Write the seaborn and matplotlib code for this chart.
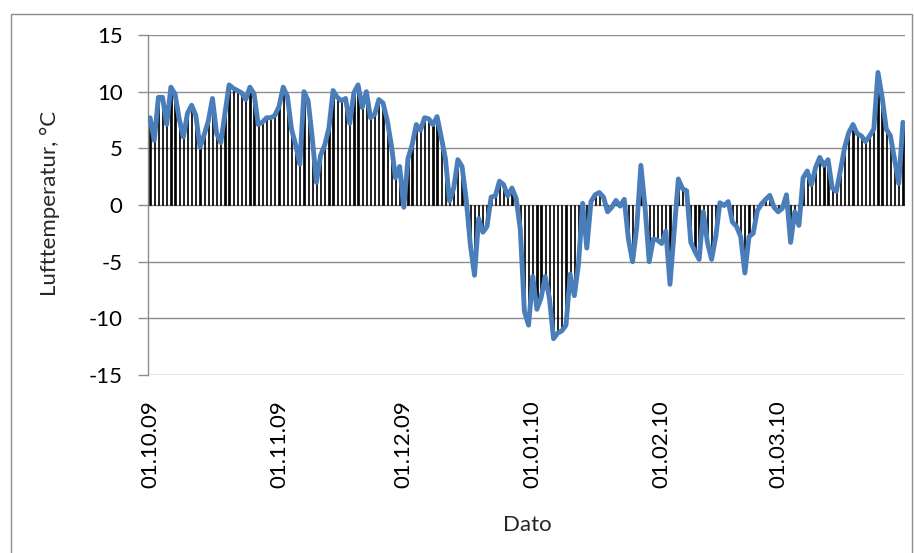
import numpy as np
import pandas as pd
import matplotlib
matplotlib.use("Agg")
import matplotlib.pyplot as plt
from matplotlib.patches import Rectangle
import seaborn as sns

# Daily air temperature, 01.10.2009 - 31.03.2010
oct09 = [7.7, 5.7, 9.5, 9.5, 7.1, 10.4, 9.8, 7.6, 6.0, 8.1, 8.8, 7.9, 5.1, 6.2, 7.4, 9.4,
         6.3, 5.5, 8.1, 10.6, 10.3, 10.1, 9.9, 9.3, 10.4, 9.8, 7.1, 7.3, 7.7, 7.7, 7.9]
nov09 = [8.7, 10.4, 9.6, 6.7, 5.3, 3.6, 10.0, 9.2, 5.9, 2.0, 4.4, 5.3, 6.8, 10.1, 9.5,
         9.2, 9.4, 7.2, 9.9, 10.6, 8.6, 10.0, 7.7, 8.0, 9.3, 9.0, 7.5, 5.3, 2.4, 3.4]
dec09 = [-0.2, 4.1, 5.3, 7.1, 6.6, 7.7, 7.6, 7.1, 7.8, 6.0, 4.1, 0.35, 1.5, 4.0, 3.4, 0.5,
         -3.5, -6.2, -1.2, -2.4, -1.9, 0.7, 0.8, 2.1, 1.8, 0.8, 1.5, 0.6, -2.1, -9.4, -10.6]
jan10 = [-6.3, -9.2, -8.2, -6.3, -8.2, -11.8, -11.3, -11.1, -10.6, -6.1, -8.0, -5.2, 0.15,
         -3.8, 0.3, 0.9, 1.1, 0.7, -0.6, -0.2, 0.4, -0.1, 0.5, -3.0, -5.0, -2.0, 3.5, -0.2,
         -5.0, -3.0, -3.1]
feb10 = [-3.4, -2.3, -7.0, -2.4, 2.3, 1.45, 1.25, -3.3, -4.1, -4.8, -0.6, -3.3, -4.8, -2.8,
         0.2, -0.05, 0.3, -1.5, -1.9, -2.8, -6.0, -2.8, -2.5, -0.5, 0.1, 0.5, 0.85, -0.2]
mar10 = [-0.6, -0.3, 0.9, -3.3, -0.6, -1.8, 2.4, 3.0, 1.8, 3.3, 4.2, 3.5, 4.0, 1.5, 1.2, 3.1,
         5.1, 6.4, 7.1, 6.3, 6.1, 5.6, 6.1, 6.7, 11.7, 9.5, 6.7, 6.1, 4.0, 1.9, 7.3]

tick_labels = ["01.10.09", "01.11.09", "01.12.09", "01.01.10", "01.02.10", "01.03.10"]
y_ticks = [-15, -10, -5, 0, 5, 10, 15]

temps = oct09 + nov09 + dec09 + jan10 + feb10 + mar10
month_lengths = [len(oct09), len(nov09), len(dec09), len(jan10), len(feb10), len(mar10)]
tick_pos = list(np.cumsum([0] + month_lengths[:-1]))

df = pd.DataFrame({"day": np.arange(len(temps)), "temp": temps})

sns.set_theme(style="white")
plt.rcParams["font.family"] = ["Lato", "DejaVu Sans"]

W, H = 914, 553
fig = plt.figure(figsize=(W / 100, H / 100), dpi=100)
ax = fig.add_axes([148 / W, 1 - 375 / H, (905 - 148) / W, (375 - 35) / H])

grid_c = "#8c8c8c"
for yv in y_ticks:
    ax.axhline(yv, color=grid_c, lw=1.0, zorder=0)

sns.barplot(data=df, x="day", y="temp", color="black", width=0.3,
            saturation=1, ax=ax, zorder=2, native_scale=True,
            edgecolor="black", linewidth=0.5)
sns.lineplot(data=df, x="day", y="temp", color="#4A7EBB", lw=3.5, ax=ax, zorder=3,
             solid_joinstyle="round", solid_capstyle="round")

ax.set_xlim(-0.5, len(temps) - 0.5)
ax.set_ylim(-15, 15)
ax.set_yticks(y_ticks)
ax.set_yticklabels([str(v) for v in y_ticks], fontsize=16, color="black")
ax.set_xticks(tick_pos)
ax.set_xticklabels(tick_labels, rotation=90, fontsize=16, va="top", color="black")
ax.tick_params(axis="y", length=7.2, width=1, color=grid_c, pad=11, left=True)
ax.tick_params(axis="x", length=0, pad=18)

for s in ["top", "right", "bottom"]:
    ax.spines[s].set_visible(False)
ax.spines["left"].set_color(grid_c)
ax.spines["left"].set_linewidth(1.0)

ax.set_xlabel("")
ax.set_ylabel("")
fig.text(527 / W, 1 - 525 / H, "Dato", fontsize=16, ha="center", va="center")
fig.text(50 / W, 1 - 203 / H, "Lufttemperatur, \u00b0C", fontsize=16,
         ha="center", va="center", rotation=90)

fig.patches.append(Rectangle((11 / W, -0.05), 901 / W, 1.05 - 14 / H,
                             transform=fig.transFigure, fill=False,
                             edgecolor="#8c8c8c", lw=1.0))

fig.savefig("out.png", dpi=100)
